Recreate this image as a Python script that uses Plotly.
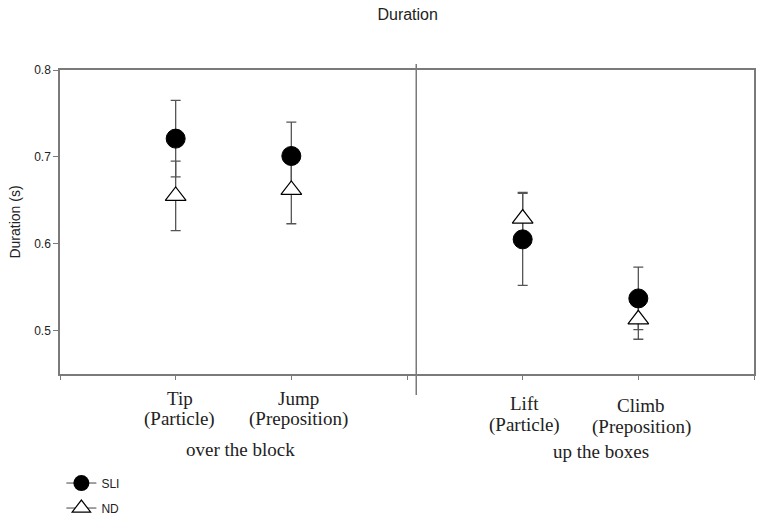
import plotly.graph_objects as go

# ---- data ----
verbs = ["Tip", "Jump", "Lift", "Climb"]
verb_types = ["(Particle)", "(Preposition)", "(Particle)", "(Preposition)"]
x_pos = [1, 2, 4, 5]
groups = ["over the block", "up the boxes"]
group_members = [[0, 1], [2, 3]]

sli_mean = [0.721, 0.701, 0.605, 0.537]
sli_err = [0.044, 0.039, 0.053, 0.036]
nd_mean = [0.655, 0.662, 0.629, 0.513]
nd_err = [0.040, 0.039, 0.030, 0.023]

y_ticks = [0.5, 0.6, 0.7, 0.8]
x_ticks = [0, 1, 2, 3, 4, 5, 6]

AX = "#7a7a7a"
ERR = "#555555"

fig = go.Figure()

# error bars first (so markers sit on top of all whiskers)
for mean, err in [(sli_mean, sli_err), (nd_mean, nd_err)]:
    fig.add_trace(go.Scatter(
        x=x_pos, y=mean, mode="markers",
        marker=dict(size=1, opacity=0),
        error_y=dict(type="data", array=err, visible=True,
                     color=ERR, thickness=1.3, width=5),
        showlegend=False, hoverinfo="skip"))

fig.add_trace(go.Scatter(
    x=x_pos, y=sli_mean, mode="markers", name="SLI",
    marker=dict(symbol="circle", size=19, color="black",
                line=dict(color="black", width=1)),
    showlegend=False))
fig.add_trace(go.Scatter(
    x=x_pos, y=nd_mean, mode="markers", name="ND",
    marker=dict(symbol="triangle-up", size=18, color="white",
                line=dict(color="black", width=1.2)),
    showlegend=False))

# legend entries
fig.add_trace(go.Scatter(
    x=[None], y=[None], mode="lines+markers", name="SLI", legendgroup="a",
    line=dict(color="#444", width=1),
    marker=dict(symbol="circle", size=17, color="black")))
fig.add_trace(go.Scatter(
    x=[None], y=[None], mode="lines+markers", name="ND", legendgroup="b",
    line=dict(color="#444", width=1),
    marker=dict(symbol="triangle-up", size=18, color="white",
                line=dict(color="black", width=1.2))))

# category labels (two lines each, pixel offsets below the x axis)
serif = "Liberation Serif, Times New Roman, serif"
line1_off = [24, 24, 29, 31]
line2_off = [45, 45, 51, 53]
x_shift = [4, 7, 2, 3]
for v, t, xp, o1, o2, sx in zip(verbs, verb_types, x_pos, line1_off, line2_off, x_shift):
    for txt, off in [(v, o1), (t, o2)]:
        fig.add_annotation(x=xp, y=0, xref="x", yref="paper",
                           yanchor="middle", xanchor="center",
                           yshift=-off, xshift=sx,
                           text=txt, showarrow=False,
                           font=dict(family=serif, size=19, color="#222"))

group_shift = [7, 20]
group_off = [75, 77]
for g, members, sx, off in zip(groups, group_members, group_shift, group_off):
    cx = sum(x_pos[m] for m in members) / len(members)
    fig.add_annotation(x=cx, y=0, xref="x", yref="paper", yanchor="middle",
                       xshift=sx, yshift=-off, text=g, showarrow=False,
                       font=dict(family=serif, size=19, color="#222"))

# divider
fig.add_shape(type="line", xref="x", yref="paper", x0=3.08, x1=3.08,
              y0=-0.069, y1=1.02, line=dict(color=AX, width=1.5))

# figure is a little taller than the window so the legend fits without
# shrinking the plot area; the extra strip below 520 px is blank.
H = 540
fig.update_layout(
    width=762, height=H,
    margin=dict(l=60, r=8, t=70, b=H - 70 - 304),
    paper_bgcolor="white", plot_bgcolor="white",
    title=dict(text="Duration", x=0.535, xanchor="center",
               y=1 - 14 / H, yanchor="middle",
               font=dict(family="Liberation Sans, Arial", size=16, color="#222")),
    font=dict(family="Liberation Sans, Arial", size=12, color="#222"),
    legend=dict(x=0.002, y=-0.311, xanchor="left", yanchor="top",
                font=dict(size=12), tracegroupgap=6, itemsizing="trace",
                bgcolor="rgba(0,0,0,0)"),
    showlegend=True,
)
fig.update_xaxes(range=[0, 6], tickvals=x_ticks, ticktext=[""] * len(x_ticks),
                 showline=True, linecolor=AX, linewidth=1.5, mirror=True,
                 ticks="outside", ticklen=4, tickcolor=AX, tickwidth=1.2,
                 showgrid=False, zeroline=False, automargin=False)
fig.update_yaxes(range=[0.45, 0.8], tickvals=y_ticks,
                 ticktext=[f"{v:.1f}" for v in y_ticks],
                 showline=True, linecolor=AX, linewidth=1.5, mirror=True,
                 ticks="outside", ticklen=5, tickcolor=AX, tickwidth=1.2,
                 showgrid=False, zeroline=False, automargin=False,
                 title=dict(text="Duration (s)", standoff=10,
                            font=dict(size=14, color="#222")))

fig.write_html("out.html", config={"displayModeBar": False},
               post_script="document.body.style.margin='0';"
                           "document.body.style.overflow='hidden';")
